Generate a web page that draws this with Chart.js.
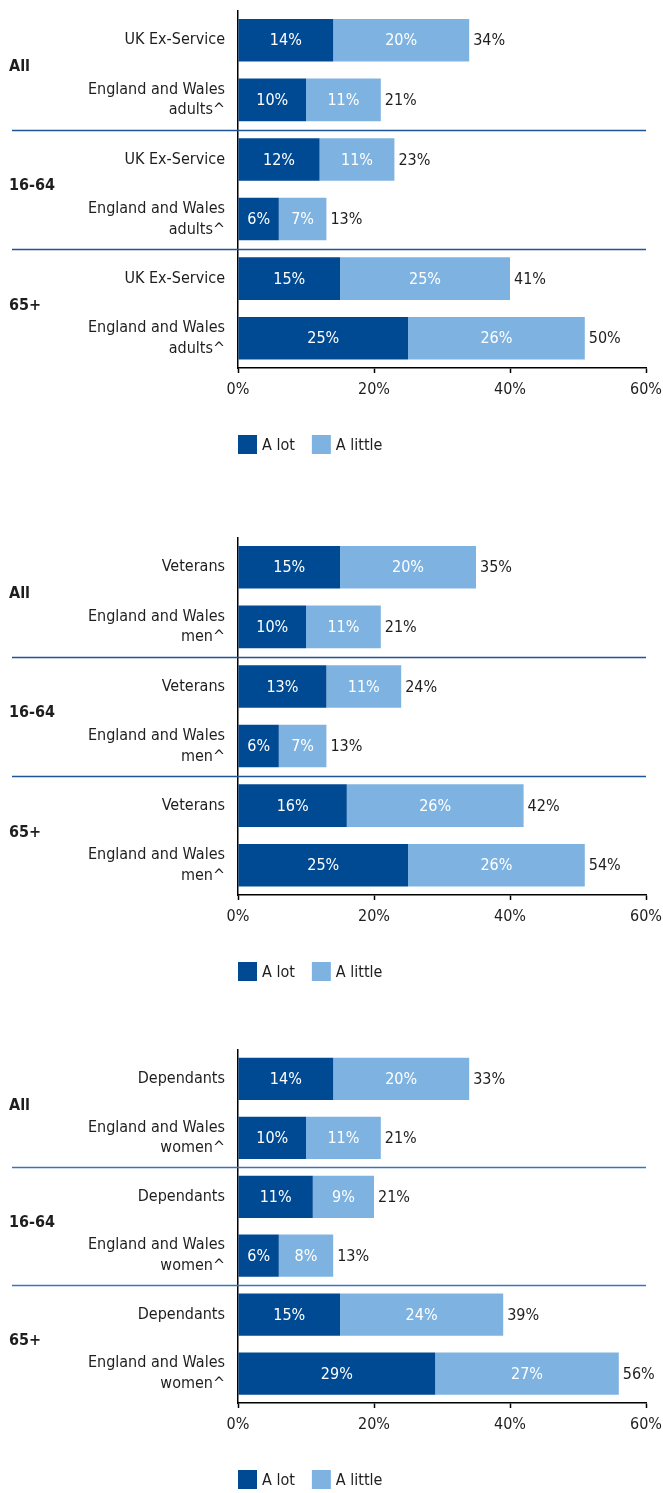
<!DOCTYPE html>
<html>
<head>
<meta charset="utf-8">
<script src="https://cdn.jsdelivr.net/npm/chart.js@4.4.1/dist/chart.umd.min.js"></script>
<style>
html,body{margin:0;padding:0;background:#fff;overflow:hidden;width:663px;height:1493px;}
canvas{position:absolute;left:0;}
</style>
</head>
<body>
<canvas id="c1" width="663" height="470" style="top:0px"></canvas>
<canvas id="c2" width="663" height="470" style="top:527px"></canvas>
<canvas id="c3" width="663" height="466" style="top:1039px"></canvas>
<script>
// ---- data ----
const groups = ['All', '16-64', '65+'];
const seriesNames = ['A lot', 'A little'];
const xTicks = [0, 20, 40, 60];

const labels1 = ['UK Ex-Service', ['England and Wales', 'adults^'], 'UK Ex-Service', ['England and Wales', 'adults^'], 'UK Ex-Service', ['England and Wales', 'adults^']];
const alot1 = [14, 10, 12, 6, 15, 25];
const little1 = [20, 11, 11, 7, 25, 26];
const total1 = [34, 21, 23, 13, 41, 50];

const labels2 = ['Veterans', ['England and Wales', 'men^'], 'Veterans', ['England and Wales', 'men^'], 'Veterans', ['England and Wales', 'men^']];
const alot2 = [15, 10, 13, 6, 16, 25];
const little2 = [20, 11, 11, 7, 26, 26];
const total2 = [35, 21, 24, 13, 42, 54];

const labels3 = ['Dependants', ['England and Wales', 'women^'], 'Dependants', ['England and Wales', 'women^'], 'Dependants', ['England and Wales', 'women^']];
const alot3 = [14, 10, 11, 6, 15, 29];
const little3 = [20, 11, 9, 8, 24, 27];
const total3 = [33, 21, 21, 13, 39, 56];

// ---- styles ----
const FONT = '"Liberation Sans Narrow", "DejaVu Sans Condensed", sans-serif';
const FS = 16;
const DARK = '#004a93';
const LIGHT = '#7eb3e1';
const TEXT = '#1e1e1e';

const decorPlugin = {
  id: 'decor',
  beforeDatasetsDraw(chart, args, opts) {
    const ctx = chart.ctx, y = chart.scales.y, ca = chart.chartArea;
    ctx.save();
    ctx.strokeStyle = opts.sepColor;
    ctx.lineWidth = 1.3;
    [1.5, 3.5].forEach(v => {
      const py = Math.round(y.getPixelForValue(v)) + 0.5;
      ctx.beginPath();
      ctx.moveTo(12, py);
      ctx.lineTo(ca.right, py);
      ctx.stroke();
    });
    ctx.restore();
  },
  afterDatasetsDraw(chart, args, opts) {
    const ctx = chart.ctx, y = chart.scales.y, ca = chart.chartArea;
    ctx.save();
    ctx.textBaseline = 'middle';
    // segment labels
    chart.data.datasets.forEach((ds, di) => {
      const meta = chart.getDatasetMeta(di);
      meta.data.forEach((el, i) => {
        ctx.fillStyle = '#ffffff';
        ctx.textAlign = 'center';
        ctx.font = FS + 'px ' + FONT;
        ctx.fillText(ds.data[i] + '%', (el.x + el.base) / 2, el.y + 1);
      });
    });
    // totals
    const lastMeta = chart.getDatasetMeta(chart.data.datasets.length - 1);
    lastMeta.data.forEach((el, i) => {
      ctx.fillStyle = TEXT;
      ctx.textAlign = 'left';
      ctx.font = FS + 'px ' + FONT;
      ctx.fillText(opts.totals[i] + '%', el.x + 4, el.y + 1);
    });
    // group labels
    ctx.font = 'bold ' + FS + 'px ' + FONT;
    ctx.textAlign = 'left';
    groups.forEach((g, gi) => {
      ctx.fillStyle = TEXT;
      ctx.fillText(g, 9, y.getPixelForValue(gi * 2 + 0.5) - 3);
    });
    // legend
    let lx = ca.left;
    const ly = ca.bottom + 67;
    ctx.font = FS + 'px ' + FONT;
    chart.data.datasets.forEach(ds => {
      ctx.fillStyle = ds.backgroundColor;
      ctx.fillRect(lx, ly, 19, 19);
      ctx.fillStyle = TEXT;
      ctx.fillText(ds.label, lx + 24, ly + 10.5);
      lx += 24 + ctx.measureText(ds.label).width + 17;
    });
    ctx.restore();
  }
};

function makeChart(id, labels, alot, little, totals, sepColor) {
  return new Chart(document.getElementById(id), {
    type: 'bar',
    data: {
      labels: labels,
      datasets: [
        { label: seriesNames[0], data: alot, backgroundColor: DARK },
        { label: seriesNames[1], data: little, backgroundColor: LIGHT }
      ]
    },
    options: {
      indexAxis: 'y',
      responsive: false,
      animation: false,
      devicePixelRatio: 1,
      barPercentage: 0.716,
      categoryPercentage: 1,
      layout: { padding: { top: 10.5, right: 17, left: 0, bottom: 0 } },
      plugins: {
        legend: { display: false },
        tooltip: { enabled: false },
        decor: { totals: totals, sepColor: sepColor }
      },
      scales: {
        x: {
          stacked: true,
          min: 0, max: 60,
          afterBuildTicks: s => { s.ticks = xTicks.map(v => ({ value: v })); },
          ticks: {
            callback: v => v + '%',
            color: TEXT,
            font: { family: FONT, size: FS },
            padding: 7,
            maxRotation: 0
          },
          grid: { drawOnChartArea: false, drawTicks: true, tickLength: 5, color: '#000', tickColor: '#000', tickWidth: 1.5 },
          border: { display: true, color: '#000', width: 1.5 },
          afterFit: s => { s.height = 102; s.paddingLeft = 0; s.paddingRight = 0; }
        },
        y: {
          stacked: true,
          ticks: {
            color: TEXT,
            font: { family: FONT, size: FS, lineHeight: 1.3 },
            padding: 13
          },
          grid: { display: false, drawTicks: false },
          border: { display: true, color: '#000', width: 1.5 },
          afterFit: s => { s.width = 238; s.paddingTop = 0; s.paddingBottom = 0; }
        }
      }
    },
    plugins: [decorPlugin]
  });
}

makeChart('c1', labels1, alot1, little1, total1, '#1d5597');
makeChart('c2', labels2, alot2, little2, total2, '#1d5597');
makeChart('c3', labels3, alot3, little3, total3, '#3873bb');
</script>
</body>
</html>
